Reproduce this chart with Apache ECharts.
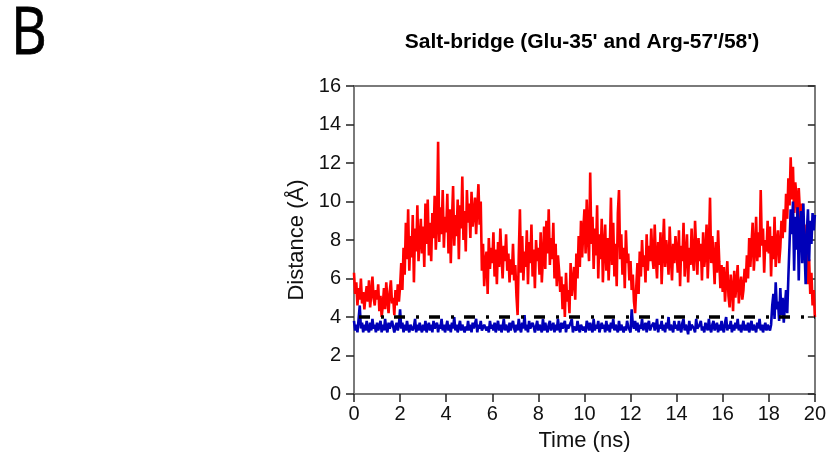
<!DOCTYPE html>
<html>
<head>
<meta charset="utf-8">
<script src="https://cdn.jsdelivr.net/npm/echarts@6/dist/echarts.min.js"></script>
<style>
  html, body { margin: 0; padding: 0; background: #fff; }
  #chart { width: 829px; height: 463px; }
</style>
</head>
<body>
<div id="chart"></div>
<script>
// Salt-bridge distance traces, sampled every 0.05 ns over 0-20 ns
const sampleStep = 0.05;

// Glu-35' / Arg-57' distance (Å)
const distRed = [
  6.3,5.2,5.8,4.6,5.5,4.9,6.0,4.7,5.3,4.4,5.1,5.6,4.8,5.9,4.5,5.2,6.1,5.0,4.6,5.4,
  4.9,5.7,4.3,5.1,4.0,4.6,5.5,4.4,5.8,4.9,4.2,5.3,5.9,4.7,5.0,4.1,5.4,4.6,5.7,4.8,
  5.6,6.8,5.4,7.6,6.2,8.9,7.0,9.6,6.4,8.2,7.1,9.3,5.8,8.6,7.4,9.8,6.9,8.0,9.1,7.3,
  8.7,6.6,9.9,7.8,10.1,7.2,8.9,6.9,9.4,8.1,10.3,7.5,8.8,13.1,7.9,9.7,8.3,10.6,7.6,9.2,
  8.4,10.4,7.3,9.6,6.8,9.0,10.8,7.7,9.3,8.2,10.1,7.0,9.8,8.6,11.3,8.0,9.5,7.4,10.6,8.9,
  9.9,8.1,10.5,8.7,9.4,10.2,8.3,9.7,10.9,8.8,10.0,6.4,7.8,5.6,6.9,7.4,5.2,8.1,6.5,7.6,
  6.8,8.4,6.1,7.5,5.7,7.9,6.6,8.6,7.2,6.0,7.7,6.9,8.3,6.4,7.3,5.8,7.0,6.2,7.8,5.9,
  6.7,5.1,4.1,7.2,9.6,6.3,8.2,5.9,7.4,6.6,8.5,5.7,7.9,6.8,8.8,6.1,7.5,5.5,8.0,6.9,
  7.6,6.2,8.4,5.8,7.1,8.7,6.5,9.0,7.3,9.6,6.7,8.1,7.0,8.9,6.0,7.8,5.6,7.2,6.4,5.3,
  6.1,4.4,5.7,4.0,6.3,4.8,5.4,4.2,6.8,5.1,5.1,6.6,4.9,7.3,6.0,8.2,6.6,9.0,7.1,8.5,
  9.6,7.3,10.1,8.2,6.9,11.5,7.8,9.2,6.5,8.6,7.2,9.8,6.0,8.3,7.0,9.1,5.8,7.7,8.8,6.4,
  8.1,5.9,7.5,10.2,6.7,8.9,6.1,7.8,5.6,9.4,10.6,7.0,8.3,6.2,7.6,5.5,8.5,6.8,7.3,5.9,
  6.9,5.4,6.2,4.8,4.2,5.6,6.8,5.2,7.4,6.1,8.0,6.6,7.2,5.8,8.3,6.4,7.7,6.9,8.6,7.1,
  6.5,8.8,7.0,6.0,7.9,6.7,8.4,5.7,7.5,9.1,6.6,8.0,7.3,6.2,8.7,7.1,5.9,7.8,6.8,8.2,
  7.4,6.3,8.5,5.6,7.7,6.9,8.9,6.1,7.2,8.3,5.8,7.6,6.7,8.6,7.0,6.4,9.0,7.5,6.2,8.1,
  6.9,7.8,5.9,8.4,6.6,7.3,8.8,6.0,7.6,10.2,6.8,8.2,7.1,5.7,7.9,6.3,8.5,6.9,5.5,6.7,
  5.3,6.6,4.8,5.9,6.9,5.1,4.5,6.2,5.5,4.3,6.4,5.0,5.8,6.7,4.7,5.6,6.1,4.9,5.4,6.5,
  5.8,7.2,6.0,8.1,6.6,7.8,8.9,6.4,7.5,9.2,6.9,8.4,7.1,10.6,7.7,8.6,6.3,8.0,7.4,9.0,
  7.3,8.7,6.1,8.2,7.0,9.2,6.6,7.9,8.5,6.8,7.6,9.0,8.1,9.6,8.4,10.4,9.1,11.2,9.8,12.3,
  10.1,11.8,9.4,11.0,10.3,8.9,10.7,9.5,8.2,9.9,7.4,8.8,6.6,8.1,5.7,7.0,5.2,6.3,4.6,5.4,4.0
];

// Glu-35' / Arg-58' distance (Å)
const distBlue = [
  3.8,3.3,3.6,3.2,3.9,4.6,3.4,3.7,3.2,3.6,3.3,3.8,3.4,3.2,3.7,3.3,3.9,3.4,3.6,3.2,
  3.7,3.3,3.5,3.8,3.2,3.6,3.3,3.9,3.4,3.2,3.7,3.4,3.3,3.8,3.5,3.2,3.5,3.7,3.3,3.6,
  4.4,3.4,3.7,3.2,3.6,3.3,3.8,3.4,3.2,3.6,3.7,3.3,3.5,3.9,3.2,3.6,3.3,3.7,3.4,3.2,
  3.6,3.3,3.8,3.2,3.5,3.7,3.3,3.6,3.2,3.8,3.4,3.3,3.7,3.2,3.6,3.4,3.9,3.3,3.6,3.2,
  3.5,3.8,3.3,3.6,3.2,3.7,3.4,4.0,3.3,3.6,3.2,3.5,3.8,3.3,3.6,3.7,3.2,3.5,3.3,3.8,
  3.3,3.6,3.2,3.7,3.4,3.3,3.9,3.2,3.6,3.4,3.8,3.3,3.2,3.6,3.7,3.3,3.5,3.2,3.8,3.4,
  3.6,3.3,3.7,3.2,3.5,3.8,3.3,3.6,3.2,3.5,3.9,3.3,3.6,3.4,3.2,3.7,3.3,3.6,3.8,3.4,
  3.2,3.6,3.3,3.9,3.4,3.2,3.7,3.4,4.1,3.3,3.6,3.2,3.8,3.4,3.3,3.7,3.5,3.2,3.5,3.8,
  3.3,3.6,3.4,3.2,3.9,3.3,3.7,3.4,3.2,3.6,3.8,3.3,3.5,3.7,3.2,3.6,3.3,3.9,3.4,3.2,
  3.7,3.4,3.3,3.8,3.2,3.6,3.4,3.3,3.7,3.9,3.2,3.5,3.6,3.3,3.8,3.4,3.2,3.6,3.7,3.3,
  3.5,3.2,3.8,3.6,3.3,3.7,3.4,3.2,3.9,3.3,3.6,3.4,3.8,3.2,3.3,3.7,3.4,3.6,3.2,3.8,
  3.3,3.6,3.2,3.7,3.4,3.9,3.3,3.6,3.4,3.2,3.8,3.3,3.6,3.7,3.2,3.5,3.3,3.8,3.5,3.4,
  3.2,4.4,3.6,3.4,3.8,3.3,3.7,3.2,3.6,3.4,3.9,3.3,3.5,3.7,3.2,3.6,3.8,3.3,3.5,3.6,
  3.7,3.3,3.5,3.9,3.2,3.6,3.4,3.8,3.3,3.6,3.2,3.7,3.4,4.0,3.3,3.6,3.4,3.2,3.8,3.4,
  3.6,3.3,3.8,3.4,3.2,3.7,3.9,3.3,3.6,3.4,3.1,3.8,3.3,3.6,3.7,3.4,3.2,3.9,3.4,3.3,
  3.6,3.8,3.3,3.5,3.2,3.7,3.5,3.3,3.9,3.4,3.2,3.6,3.8,3.3,3.5,3.7,3.2,3.6,3.3,3.8,
  3.4,3.2,3.7,4.0,3.3,3.6,3.4,3.8,3.2,3.6,3.3,3.7,3.4,3.9,3.3,3.6,3.2,3.5,3.8,3.3,
  3.6,3.3,3.7,3.2,3.5,3.8,3.3,3.6,3.4,3.2,3.7,3.4,3.9,3.3,3.6,3.2,3.5,3.7,3.3,3.6,
  3.5,3.3,3.6,4.6,5.2,3.9,5.8,4.4,4.8,3.8,5.5,4.1,5.0,3.7,4.6,5.4,4.2,6.1,7.8,9.6,
  8.3,10.0,6.4,9.2,7.5,9.7,5.9,8.8,9.5,6.8,9.9,7.6,5.7,8.4,9.6,6.9,9.0,7.8,9.4,8.5,9.3
];

// Salt-bridge cutoff (Å)
const cutoffTimes = [0, 20];
const cutoffValue = 4;

const xTicks = { min: 0, max: 20, interval: 2 };
const yTicks = { min: 0, max: 16, interval: 2 };

const pairs = (vals) => vals.map((v, i) => [+(i * sampleStep).toFixed(2), v]);

const FONT = '"Liberation Sans", Arial, sans-serif';
const AXIS_GRAY = '#7a7a7a';

const chart = echarts.init(document.getElementById('chart'), null, { renderer: 'canvas' });

chart.setOption({
  animation: false,
  backgroundColor: '#ffffff',
  graphic: [
    {
      type: 'text',
      x: 11,
      y: 2,
      scaleX: 0.84,
      style: {
        text: 'B',
        fontFamily: '"Open Sans", "Noto Sans", sans-serif',
        fontSize: 66,
        fill: '#000',
        stroke: '#000',
        lineWidth: 0.8,
        verticalAlign: 'top'
      }
    }
  ],
  title: [
    {
      text: "Salt-bridge (Glu-35' and Arg-57'/58')",
      left: 577,
      top: 27,
      textAlign: 'center',
      textStyle: { fontFamily: FONT, fontSize: 21, fontWeight: 'bold', color: '#000' }
    }
  ],
  grid: { left: 354, right: 14, top: 86, bottom: 69, containLabel: false },
  xAxis: [
    {
      type: 'value',
      min: xTicks.min, max: xTicks.max, interval: xTicks.interval,
      name: 'Time (ns)',
      nameLocation: 'middle',
      nameGap: 36,
      nameTextStyle: { fontFamily: FONT, fontSize: 22, color: '#111' },
      axisLine: { show: true, onZero: false, lineStyle: { color: AXIS_GRAY, width: 2 } },
      axisTick: { show: true, inside: false, length: 8, lineStyle: { color: '#222', width: 1.5 } },
      axisLabel: { fontFamily: FONT, fontSize: 20, color: '#111', margin: 10 },
      splitLine: { show: false }
    },
    {
      type: 'value',
      position: 'top',
      min: xTicks.min, max: xTicks.max, interval: xTicks.interval,
      axisLine: { show: true, onZero: false, lineStyle: { color: AXIS_GRAY, width: 2 } },
      axisTick: { show: false },
      axisLabel: { show: false },
      splitLine: { show: false }
    }
  ],
  yAxis: [
    {
      type: 'value',
      min: yTicks.min, max: yTicks.max, interval: yTicks.interval,
      name: 'Distance (Å)',
      nameLocation: 'middle',
      nameGap: 46,
      nameTextStyle: { fontFamily: FONT, fontSize: 22, color: '#111' },
      axisLine: { show: true, onZero: false, lineStyle: { color: AXIS_GRAY, width: 2 } },
      axisTick: { show: true, inside: false, length: 8, lineStyle: { color: '#222', width: 1.5 } },
      axisLabel: { fontFamily: FONT, fontSize: 20, color: '#111', margin: 13 },
      splitLine: { show: false }
    },
    {
      type: 'value',
      position: 'right',
      min: yTicks.min, max: yTicks.max, interval: yTicks.interval,
      axisLine: { show: true, onZero: false, lineStyle: { color: AXIS_GRAY, width: 2 } },
      axisTick: { show: true, inside: true, length: 7, lineStyle: { color: '#222', width: 1.5 } },
      axisLabel: { show: false },
      splitLine: { show: false }
    }
  ],
  series: [
    {
      name: "Arg-57'",
      type: 'line',
      data: pairs(distRed),
      showSymbol: false,
      symbol: 'none',
      lineStyle: { color: '#ff0000', width: 2.6 },
      z: 2
    },
    {
      name: "Arg-58'",
      type: 'line',
      data: pairs(distBlue),
      showSymbol: false,
      symbol: 'none',
      lineStyle: { color: '#0000b8', width: 2.6 },
      z: 3
    },
    {
      name: 'cutoff',
      type: 'line',
      data: cutoffTimes.map(t => [t, cutoffValue]),
      showSymbol: false,
      symbol: 'none',
      lineStyle: { color: '#000', width: 3.5, type: [11, 11, 3, 10], dashOffset: 30, cap: 'butt' },
      z: 4
    }
  ]
});
</script>
</body>
</html>
